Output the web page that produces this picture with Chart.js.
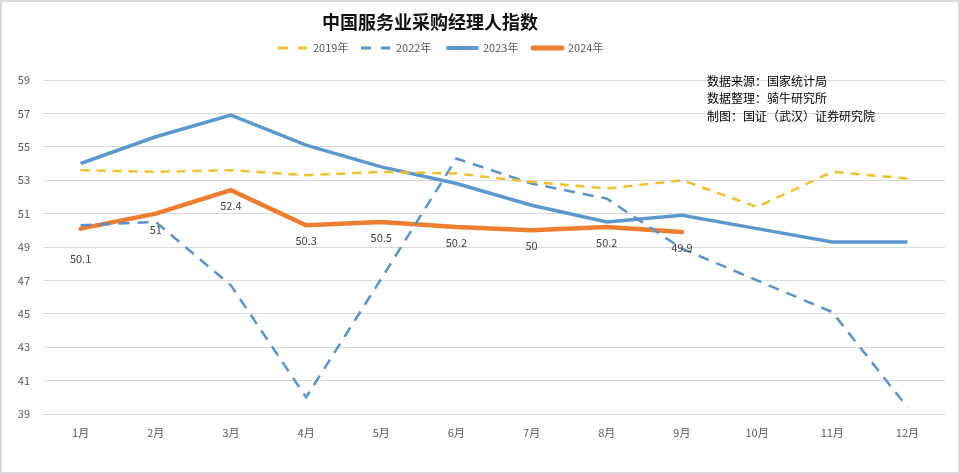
<!DOCTYPE html>
<html><head><meta charset="utf-8">
<script src="https://cdn.jsdelivr.net/npm/chart.js@4/dist/chart.umd.min.js"></script>
<style>html,body{margin:0;padding:0;background:#fff;}#wrap{width:960px;height:474px;position:relative;}</style>
</head><body><div id="wrap"><canvas id="c" width="960" height="474"></canvas></div>
<script>
const months = ['1月','2月','3月','4月','5月','6月','7月','8月','9月','10月','11月','12月'];
const s2019 = [53.6,53.5,53.6,53.3,53.5,53.4,52.9,52.5,53.0,51.4,53.5,53.1];
const s2022 = [50.3,50.5,46.7,40.0,47.1,54.3,52.8,51.9,48.9,47.0,45.1,39.4];
const s2023 = [54.0,55.6,56.9,55.1,53.8,52.8,51.5,50.5,50.9,50.1,49.3,49.3];
const s2024 = [50.1,51,52.4,50.3,50.5,50.2,50,50.2,49.9];
const yTicks = [39,41,43,45,47,49,51,53,55,57,59];
const titleText = '中国服务业采购经理人指数';
const notes = ['数据来源：国家统计局','数据整理：骑牛研究所','制图：国证（武汉）证券研究院'];
const FONT = '"Noto Sans CJK SC", "Noto Sans", sans-serif';

const decor = {
  id:'decor',
  afterDatasetsDraw(chart){
    const ctx = chart.ctx;
    const meta = chart.getDatasetMeta(3);
    ctx.save();
    ctx.font = '11px ' + FONT;
    ctx.fillStyle = '#404040';
    ctx.textAlign = 'center';
    ctx.textBaseline = 'middle';
    meta.data.forEach((pt,i)=>{
      const off = i===0 ? 30 : 16;
      ctx.fillText(String(s2024[i]), pt.x, pt.y + off);
    });
    ctx.restore();
  },
  afterDraw(chart){
    const ctx = chart.ctx;
    ctx.save();
    ctx.strokeStyle = '#d9d9d9'; ctx.lineWidth = 2;
    ctx.strokeRect(1,1,958,472);
    ctx.fillStyle = '#111';
    ctx.font = 'bold 18px ' + FONT;
    ctx.textAlign = 'center'; ctx.textBaseline = 'middle';
    ctx.fillText(titleText, 430, 22);
    const items = chart.data.datasets;
    const xs = [277,360,447,532];
    ctx.font = '11px ' + FONT;
    ctx.textAlign = 'left';
    items.forEach((ds,i)=>{
      const x = xs[i], y = 48;
      ctx.strokeStyle = ds.borderColor;
      ctx.lineWidth = i < 2 ? 3 : (i === 2 ? 4 : 5);
      ctx.setLineDash(i < 2 ? [10,10] : []);
      ctx.lineCap = i < 2 ? 'butt' : 'round';
      ctx.beginPath(); ctx.moveTo(x+1,y); ctx.lineTo(x+30,y); ctx.stroke();
      ctx.setLineDash([]);
      ctx.fillStyle = '#595959';
      ctx.fillText(ds.label, x+36, y);
    });
    ctx.fillStyle = '#000';
    ctx.font = '12px ' + FONT;
    notes.forEach((t,i)=>ctx.fillText(t, 707, 81 + i*17.5));
    ctx.restore();
  }
};

new Chart(document.getElementById('c'), {
  type:'line',
  data:{
    labels: months,
    datasets:[
      {label:'2019年', data:s2019, borderColor:'#EDC130', borderWidth:2.5, borderDash:[9,7], pointRadius:0, tension:0},
      {label:'2022年', data:s2022, borderColor:'#5B93C4', borderWidth:2.5, borderDash:[11,8], pointRadius:0, tension:0},
      {label:'2023年', data:s2023, borderColor:'#5D98CC', borderWidth:3.5, pointRadius:0, tension:0},
      {label:'2024年', data:s2024, borderColor:'#ED7D31', borderWidth:4.5, pointRadius:0, tension:0, borderCapStyle:'round'}
    ]
  },
  options:{
    responsive:false, animation:false,
    layout:{padding:{left:0,right:15,top:80,bottom:20}},
    plugins:{legend:{display:false}, title:{display:false}, tooltip:{enabled:false}},
    scales:{
      x:{
        offset:true,
        grid:{display:false, drawTicks:false},
        border:{display:false},
        ticks:{color:'#595959', font:{size:11, family:FONT}, padding:12, maxRotation:0},
        afterFit(s){ s.height = 40; }
      },
      y:{
        min:39, max:59,
        afterBuildTicks(s){ s.ticks = yTicks.map(v=>({value:v})); },
        grid:{color:'#d9d9d9', drawTicks:false, lineWidth:1},
        border:{display:false},
        ticks:{color:'#595959', font:{size:11, family:FONT}, padding:13},
        afterFit(s){ s.width = 43; }
      }
    }
  },
  plugins:[decor]
});
</script></body></html>
